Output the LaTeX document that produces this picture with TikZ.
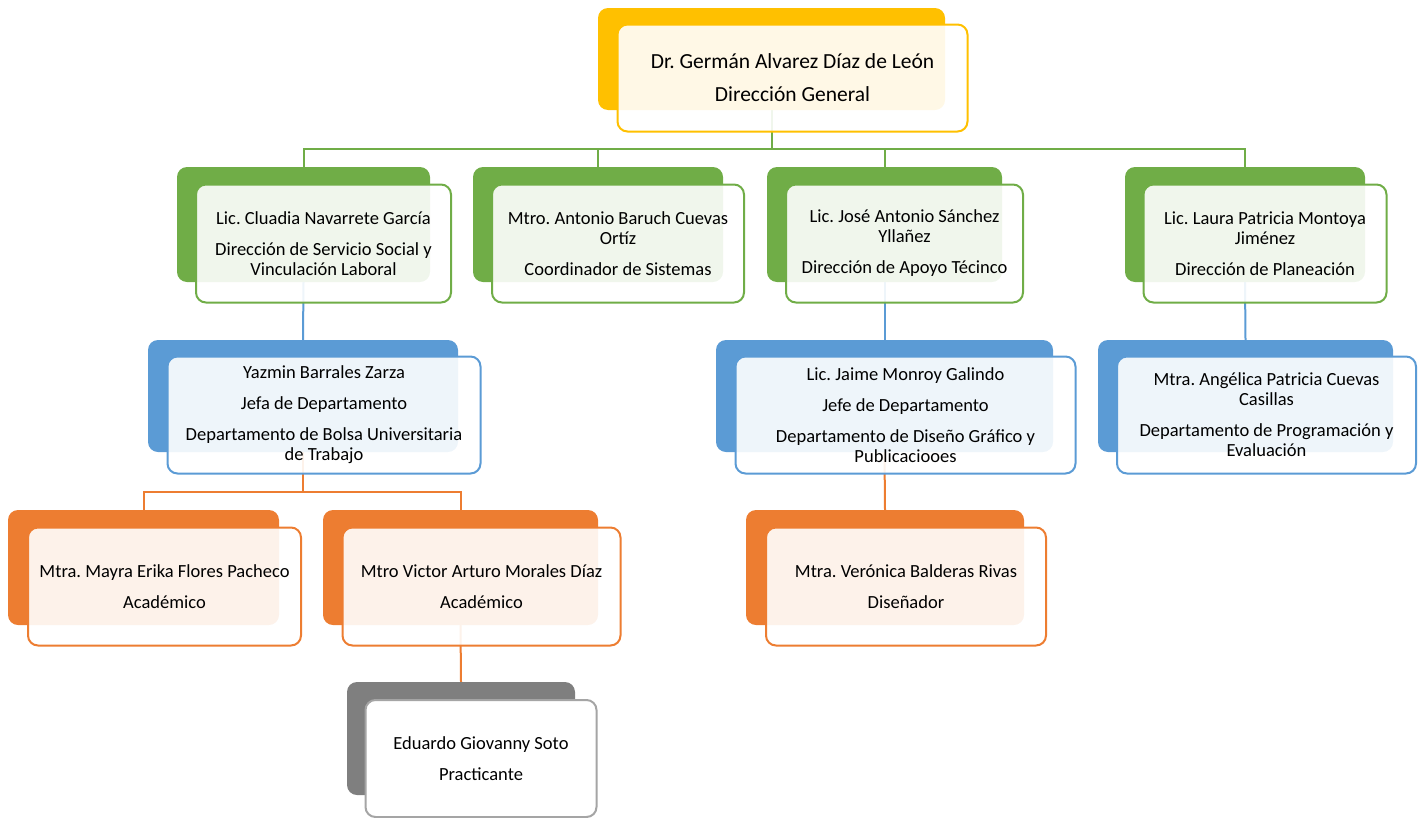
\documentclass[tikz,border=0pt]{standalone}
\usepackage{fontspec}
\setmainfont{Carlito}
\frenchspacing
\usetikzlibrary{calc,positioning,backgrounds}
\definecolor{amarillo}{HTML}{FFC000}
\definecolor{verde}{HTML}{70AD47}
\definecolor{azul}{HTML}{5B9BD5}
\definecolor{naranja}{HTML}{ED7D31}
\definecolor{gris}{HTML}{7F7F7F}
\tikzset{
  back/.style={rectangle, rounded corners=10pt, draw=none, inner sep=0pt},
  front/.style={rectangle, rounded corners=10pt, line width=2pt, fill=white, fill opacity=0.9, text opacity=1, align=center, inner sep=0pt, font=\fontsize{18.5}{20}\selectfont},
  backye/.style={back, fill=amarillo, minimum height=102pt},
  frontye/.style={front, draw=amarillo, minimum height=107pt, font=\fontsize{21.5}{22}\selectfont},
  backgr/.style={back, fill=verde, minimum height=115pt},
  frontgr/.style={front, draw=verde, minimum height=118pt},
  backbl/.style={back, fill=azul, minimum height=112pt},
  frontbl/.style={front, draw=azul, minimum height=117pt},
  backor/.style={back, fill=naranja, minimum height=115pt},
  frontor/.style={front, draw=naranja, minimum height=118pt},
  backgy/.style={back, fill=gris, minimum height=113pt},
  frontgy/.style={front, draw=gris!70, fill opacity=1, minimum height=117pt},
  link/.style={line width=2pt}
}

\begin{document}
\begin{tikzpicture}[x=1pt,y=-1pt]
  \useasboundingbox (0,0) rectangle (1422,817);

  % direccion general
  \node[backye, minimum width=347pt] (dirb) at (771.5,59) {};
  \node[frontye, minimum width=350pt] (dir) at ($(dirb)+(21,19)$) {Dr. Germán Alvarez Díaz de León\\[11pt]Dirección General};

  % direcciones
  \node[backgr, minimum width=253pt] (vinb) at (303.5,224.5) {};
  \node[frontgr, minimum width=255pt] (vin) at ($(vinb)+(20,19)$) {Lic. Cluadia Navarrete García\\[11pt]Dirección de Servicio Social y\\Vinculación Laboral};
  \node[backgr, minimum width=250pt] (sisb) at (598,224.5) {};
  \node[frontgr, minimum width=252pt] (sis) at ($(sisb)+(20,19)$) {Mtro. Antonio Baruch Cuevas\\Ortíz\\[11pt]Coordinador de Sistemas};
  \node[backgr, minimum width=235pt] (apob) at (884.5,224.5) {};
  \node[frontgr, minimum width=237pt] (apo) at ($(apob)+(20,19)$) {Lic. José Antonio Sánchez\\Yllañez\\[11pt]Dirección de Apoyo Técinco};
  \node[backgr, minimum width=240pt] (plab) at (1245,224.5) {};
  \node[frontgr, minimum width=243pt] (pla) at ($(plab)+(20,19)$) {Lic. Laura Patricia Montoya\\Jiménez\\[11pt]Dirección de Planeación};

  % departamentos
  \node[backbl, minimum width=310pt] (bolb) at (303,396) {};
  \node[frontbl, minimum width=313pt] (bol) at ($(bolb)+(21,19)$) {Yazmin Barrales Zarza\\[11pt]Jefa de Departamento\\[11pt]Departamento de Bolsa Universitaria\\de Trabajo};
  \node[backbl, minimum width=337pt] (disb) at (884.5,396) {};
  \node[frontbl, minimum width=340pt] (dis) at ($(disb)+(21,19)$) {Lic. Jaime Monroy Galindo\\[11pt]Jefe de Departamento\\[11pt]Departamento de Diseño Gráfico y\\Publicaciooes};
  \node[backbl, minimum width=295pt] (prob) at (1245.5,396) {};
  \node[frontbl, minimum width=299pt] (pro) at ($(prob)+(21,19)$) {Mtra. Angélica Patricia Cuevas\\Casillas\\[11pt]Departamento de Programación y\\Evaluación};

  % academicos
  \node[backor, minimum width=271pt] (flob) at (143.5,567.5) {};
  \node[frontor, minimum width=273pt] (flo) at ($(flob)+(21,19)$) {Mtra. Mayra Erika Flores Pacheco\\[11pt]Académico};
  \node[backor, minimum width=275pt] (morb) at (460.5,567.5) {};
  \node[frontor, minimum width=278pt] (mor) at ($(morb)+(21,19)$) {Mtro Victor Arturo Morales Díaz\\[11pt]Académico};
  \node[backor, minimum width=278pt] (balb) at (885,567.5) {};
  \node[frontor, minimum width=280pt] (bal) at ($(balb)+(21,19)$) {Mtra. Verónica Balderas Rivas\\[11pt]Diseñador};

  % practicante
  \node[backgy, minimum width=228pt] (sotb) at (461,738.5) {};
  \node[frontgy, minimum width=231pt] (sot) at ($(sotb)+(20,20)$) {Eduardo Giovanny Soto\\[11pt]Practicante};

  \begin{scope}[on background layer]
    \draw[link, verde] (dirb.south) -- ++(0,39) -| (vinb.north);
    \draw[link, verde] (dirb.south) -- ++(0,39) -| (sisb.north);
    \draw[link, verde] (dirb.south) -- ++(0,39) -| (apob.north);
    \draw[link, verde] (dirb.south) -- ++(0,39) -| (plab.north);
    \draw[link, azul] (vinb.south) -- (bolb.north);
    \draw[link, azul] (apob.south) -- (disb.north);
    \draw[link, azul] (plab.south) -- (prob.north);
    \draw[link, naranja] (bolb.south) -- ++(0,40) -| (flob.north);
    \draw[link, naranja] (bolb.south) -- ++(0,40) -| (morb.north);
    \draw[link, naranja] (disb.south) -- (balb.north);
    \draw[link, naranja] (morb.south) -- (sotb.north);
  \end{scope}
\end{tikzpicture}
\end{document}
